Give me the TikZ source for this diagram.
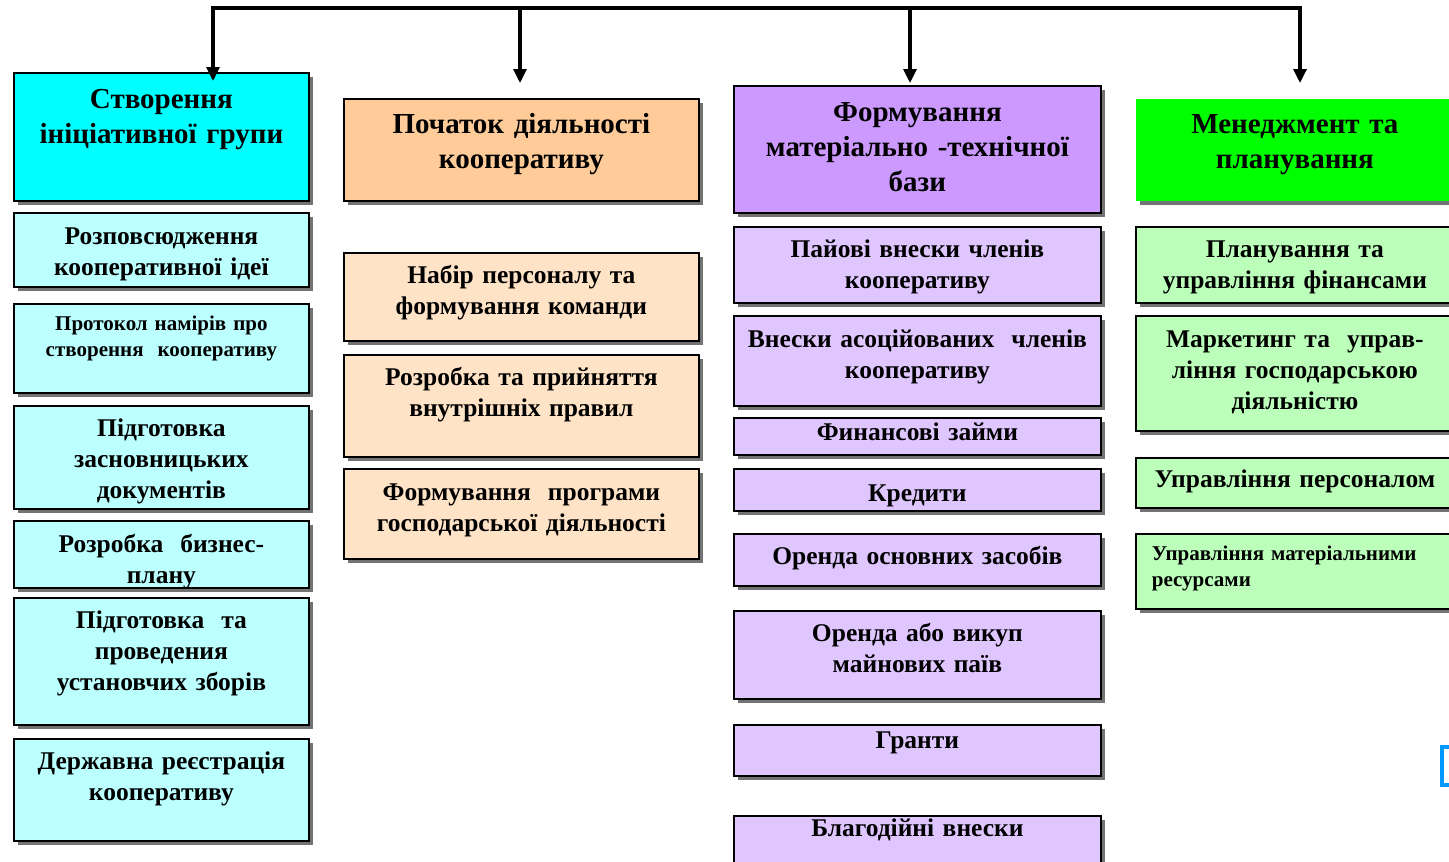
\documentclass[tikz,border=0pt]{standalone}
\usepackage{fontspec}
\setmainfont{Liberation Serif}
\usetikzlibrary{arrows.meta,shadows}

\definecolor{headA}{RGB}{0,255,255}
\definecolor{lightA}{RGB}{187,255,255}
\definecolor{headB}{RGB}{255,204,153}
\definecolor{lightB}{RGB}{255,227,199}
\definecolor{headC}{RGB}{204,153,255}
\definecolor{lightC}{RGB}{223,198,255}
\definecolor{headD}{RGB}{0,255,0}
\definecolor{lightD}{RGB}{187,255,187}
\definecolor{edgeblue}{RGB}{0,153,255}

\tikzset{
  cell/.style={draw, line width=1.8pt, anchor=north west, inner xsep=0pt, inner ysep=0pt,
    align=center, font=\fontsize{25.5}{31}\selectfont\bfseries,
    drop shadow={shadow xshift=4pt, shadow yshift=-4pt, fill=black!55, opacity=1}},
  head/.style={cell, font=\fontsize{29}{35}\selectfont\bfseries},
  small/.style={font=\fontsize{21}{26}\selectfont\bfseries},
  pad/.style 2 args={text height=#1pt, text depth=#2pt},
  colA/.style={text width=295pt},
  colB/.style={text width=355pt},
  colC/.style={text width=367pt},
  colD/.style={text width=318pt},
  feed/.style={line width=3.2pt, -{Triangle[length=14pt,width=13pt]}},
}

\begin{document}
\begin{tikzpicture}[x=1pt, y=-1pt]
\useasboundingbox (0,0) rectangle (1449,862);
\clip (0,0) rectangle (1449,862);

% headers
\node[head, colA, fill=headA, pad={36}{92}] (h1) at (13,72) {Створення\\ініціативної групи};
\node[head, colB, fill=headB, pad={35}{67}] (h2) at (343,98) {Початок діяльності\\кооперативу};
\node[head, colC, fill=headC, pad={36}{91}] (h3) at (733,85) {Формування\\матеріально -технічної\\бази};
\node[head, colD, fill=headD, draw=none, pad={35}{67}] (h4) at (1135,98) {Менеджмент та\\планування};

% first column
\node[cell, colA, fill=lightA, pad={32}{42}] (c1a) at (13,212) {Розповсюдження\\кооперативної ідеї};
\node[cell, colA, fill=lightA, small, pad={27}{62}] (c1b) at (13,303) {Протокол намірів про\\створення\ \ кооперативу};
\node[cell, colA, fill=lightA, pad={31}{72}] (c1c) at (13,405) {Підготовка\\засновницьких\\документів};
\node[cell, colA, fill=lightA, pad={32}{35}] (c1d) at (13,520) {Розробка\ \ бизнес-\\плану};
\node[cell, colA, fill=lightA, pad={31}{96}] (c1e) at (13,597) {Підготовка\ \ та\\проведения\\установчих зборів};
\node[cell, colA, fill=lightA, pad={31}{71}] (c1f) at (13,738) {Державна реєстрація\\кооперативу};

% second column
\node[cell, colB, fill=lightB, pad={31}{57}] (c2a) at (343,252) {Набір персоналу та\\формування команди};
\node[cell, colB, fill=lightB, pad={31}{71}] (c2b) at (343,354) {Розробка та прийняття\\внутрішніх правил};
\node[cell, colB, fill=lightB, pad={32}{58}] (c2c) at (343,468) {Формування\ \ програми\\господарської діяльності};

% third column
\node[cell, colC, fill=lightC, pad={31}{45}] (c3a) at (733,226) {Пайові внески членів\\кооперативу};
\node[cell, colC, fill=lightC, pad={32}{58}] (c3b) at (733,315) {Внески асоційованих\ \ членів\\кооперативу};
\node[cell, colC, fill=lightC, pad={23}{14}] (c3c) at (733,417) {Финансові займи};
\node[cell, colC, fill=lightC, pad={33}{9}] (c3d) at (733,468) {Кредити};
\node[cell, colC, fill=lightC, pad={31}{21}] (c3e) at (733,533) {Оренда основних засобів};
\node[cell, colC, fill=lightC, pad={31}{57}] (c3f) at (733,610) {Оренда або викуп\\майнових паїв};
\node[cell, colC, fill=lightC, pad={24}{27}] (c3g) at (733,724) {Гранти};
\node[cell, colC, fill=lightC, pad={21}{34}] (c3h) at (733,815) {Благодійні внески};

% fourth column
\node[cell, colD, fill=lightD, pad={31}{45}] (c4a) at (1135,226) {Планування та\\управління фінансами};
\node[cell, colD, fill=lightD, pad={32}{83}] (c4b) at (1135,315) {Маркетинг та\ \ управ-\\ління господарською\\діяльністю};
\node[cell, colD, fill=lightD, pad={30}{20}] (c4c) at (1135,457) {Управління персоналом};
\node[cell, fill=lightD, small, align=left, inner xsep=16pt, text width=286pt, pad={27}{48}] (c4d) at (1135,533) {Управління матеріальними\\ресурсами};

% feed lines
\coordinate (bar1) at (213,8);
\coordinate (bar2) at (520,8);
\coordinate (bar3) at (910,8);
\coordinate (bar4) at (1300,8);
\coordinate (tip1) at (213,81);
\coordinate (tip2) at (520,83);
\coordinate (tip3) at (910,83);
\coordinate (tip4) at (1300,83);
\draw[line width=3.2pt] ([xshift=-1.6pt]bar1) -- ([xshift=1.6pt]bar4);
\foreach \i in {1,...,4}
  \draw[feed] (bar\i) -- (tip\i);

% edge of a shape cut by the frame
\draw[edgeblue, line width=4pt, fill=white] (1442,747) rectangle (1465,785);
\end{tikzpicture}
\end{document}
